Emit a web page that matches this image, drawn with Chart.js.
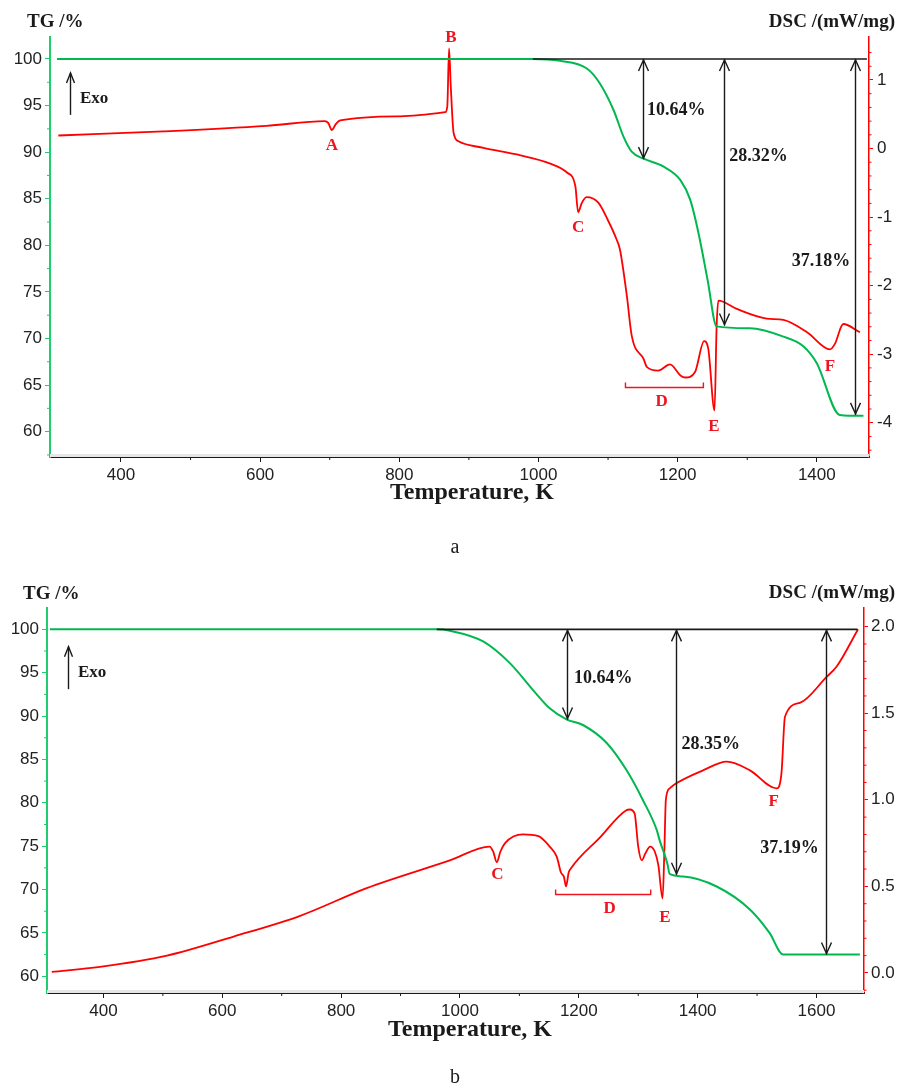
<!DOCTYPE html>
<html lang="en">
<head>
<meta charset="UTF-8">
<title>TG / DSC curves</title>
<script src="https://cdn.jsdelivr.net/npm/chart.js"></script>
<style>
  body { margin: 0; background: #fff; width: 897px; height: 1088px; position: relative; overflow: hidden; }
  canvas { position: absolute; left: 0; }
  #chartA { top: 0; }
  #chartB { top: 560px; }
</style>
</head>
<body>
<canvas id="chartA" width="897" height="560"></canvas>
<canvas id="chartB" width="897" height="528"></canvas>
<script>
// ---- panel a data ----
const tgTempA = [308, 992, 1031, 1069, 1088, 1108, 1122, 1134, 1151, 1180, 1204, 1218, 1230, 1243, 1256, 1304, 1352, 1381, 1400, 1433, 1467];
const tgA     = [100, 100, 99.8, 99.0, 97.4, 94.5, 91.7, 90.05, 89.3, 88.44, 87.0, 84.9, 81.3, 76.3, 71.3, 71.1, 70.2, 69.15, 67.35, 61.8, 61.7];
const dscTempA = [310, 461, 609, 693, 698, 703, 709, 715, 801, 866, 869, 871.5, 874, 878, 885, 921, 969, 1017, 1041, 1053, 1057, 1062, 1069, 1086, 1100, 1112, 1117, 1127, 1134, 1151, 1156, 1172, 1189, 1204, 1211, 1225, 1238, 1244, 1253, 1256, 1258.5, 1285, 1328, 1352, 1386, 1419, 1426, 1438, 1462];
const dscA     = [0.19, 0.25, 0.33, 0.40, 0.37, 0.27, 0.36, 0.41, 0.47, 0.53, 0.62, 1.46, 0.90, 0.23, 0.106, 0.01, -0.087, -0.22, -0.35, -0.55, -0.93, -0.80, -0.71, -0.79, -1.05, -1.32, -1.47, -2.15, -2.73, -3.07, -3.19, -3.24, -3.15, -3.31, -3.34, -3.26, -2.81, -2.92, -3.82, -2.6, -2.22, -2.34, -2.48, -2.50, -2.68, -2.93, -2.85, -2.56, -2.68];
const lossTempA  = [1150, 1267, 1455];
const lossEndA   = [89.25, 71.4, 61.8];
const lossTextA  = ['10.64%', '28.32%', '37.18%'];
const lossLabelTempA = [1156, 1274, 1448];
const lossLabelTgA   = [94.5, 89.6, 78.3];
const peakNamesA = ['A', 'B', 'C', 'D', 'E', 'F'];
const peakTempA  = [703, 874, 1057, 1177, 1252, 1419];
const peakDscA   = [0.04, 1.62, -1.15, -3.69, -4.05, -3.18];
const bracketA   = [1125, 1237, -3.48];

// ---- panel b data ----
const tgTempB = [310, 961, 983, 1039, 1084, 1123, 1151, 1180, 1207, 1247, 1280, 1308, 1331, 1336, 1349, 1353, 1376, 1432, 1488, 1521, 1544, 1673];
const tgB     = [100, 100, 99.84, 98.6, 96.1, 93.0, 90.9, 89.6, 88.97, 86.9, 83.8, 80.3, 76.9, 75.7, 73.0, 71.8, 71.5, 70.35, 67.7, 65.0, 62.5, 62.5];
const dscTempB = [313, 394, 507, 619, 731, 843, 983, 1050, 1056, 1062, 1068, 1076, 1106, 1132, 1151, 1163, 1170, 1175, 1178.5, 1183, 1186, 1235, 1280, 1286, 1294, 1300, 1306, 1312, 1320, 1328, 1334, 1341, 1344, 1346.5, 1353, 1364, 1409, 1449, 1488, 1533, 1541, 1547, 1572, 1617, 1634, 1670];
const dscB     = [0.006, 0.035, 0.10, 0.21, 0.33, 0.49, 0.65, 0.73, 0.70, 0.64, 0.70, 0.75, 0.80, 0.79, 0.73, 0.67, 0.58, 0.555, 0.50, 0.58, 0.60, 0.78, 0.94, 0.944, 0.92, 0.73, 0.65, 0.69, 0.73, 0.70, 0.62, 0.43, 0.70, 1.0, 1.066, 1.095, 1.17, 1.22, 1.17, 1.066, 1.15, 1.48, 1.56, 1.71, 1.77, 1.985];
const lossTempB  = [1180, 1363, 1616];
const lossEndB   = [89.6, 71.7, 62.5];
const lossTextB  = ['10.64%', '28.35%', '37.19%'];
const lossLabelTempB = [1192, 1373, 1604];
const lossLabelTgB   = [94.4, 86.7, 74.8];
const peakNamesB = ['C', 'D', 'E', 'F'];
const peakTempB  = [1063, 1252, 1345, 1528];
const peakDscB   = [0.57, 0.374, 0.32, 0.99];
const bracketB   = [1161, 1321, 0.453];

// ---- tick labels ----
const tempTicksA = [400, 600, 800, 1000, 1200, 1400];
const tempLabelsA = ['400', '600', '800', '1000', '1200', '1400'];
const tempTicksB = [400, 600, 800, 1000, 1200, 1400, 1600];
const tempLabelsB = ['400', '600', '800', '1000', '1200', '1400', '1600'];
const tgTicks = [60, 65, 70, 75, 80, 85, 90, 95, 100];
const tgLabels = ['60', '65', '70', '75', '80', '85', '90', '95', '100'];
const dscTicksA = [-4, -3, -2, -1, 0, 1];
const dscLabelsA = ['-4', '-3', '-2', '-1', '0', '1'];
const dscTicksB = [0, 0.5, 1, 1.5, 2];
const dscLabelsB = ['0.0', '0.5', '1.0', '1.5', '2.0'];

const GREEN = '#00b850';
const GREEN_AXIS = '#1fcc6e';
const RED = '#ff0000';
const LABEL_RED = '#f0141e';
const INK = '#1a1a1a';
const SERIF = '"Liberation Serif", "DejaVu Serif", serif';
const SANS = '"Liberation Sans", Arial, sans-serif';

function toPoints(xs, ys) {
  return xs.map((x, i) => ({ x: x, y: ys[i] }));
}

function seg(ctx, x1, y1, x2, y2) {
  ctx.beginPath(); ctx.moveTo(x1, y1); ctx.lineTo(x2, y2); ctx.stroke();
}

function head(ctx, x, y, dir) {
  // open V arrow head, dir = -1 points up, 1 points down
  ctx.beginPath();
  ctx.moveTo(x - 5, y - dir * 11);
  ctx.lineTo(x, y);
  ctx.lineTo(x + 5, y - dir * 11);
  ctx.stroke();
}

function minorTicks(ctx, scale, step, major, from, to, draw) {
  for (let k = Math.ceil(scale.min / step); k * step <= scale.max; k++) {
    const v = k * step;
    if (Math.abs(v / major - Math.round(v / major)) < 1e-6) continue;
    const p = scale.getPixelForValue(v);
    if (p < from || p > to) continue;
    draw(p);
  }
}

const decor = {
  id: 'decor',
  beforeDatasetsDraw(chart) {
    const { ctx, chartArea: a } = chart;
    ctx.save();
    ctx.fillStyle = '#e6e6e6';
    ctx.fillRect(a.left, a.bottom - 3, a.right - a.left, 3);
    ctx.restore();
  },
  afterDraw(chart, args, o) {
    const { ctx, chartArea: a, scales } = chart;
    const x = scales.x, yt = scales.yTG, yd = scales.yDSC;
    ctx.save();

    // minor ticks
    ctx.lineWidth = 1;
    ctx.strokeStyle = INK;
    minorTicks(ctx, x, 100, 200, a.left + 3, a.right - 3, p => seg(ctx, p, a.bottom, p, a.bottom + 3));
    ctx.strokeStyle = GREEN_AXIS;
    minorTicks(ctx, yt, 2.5, 5, a.top + 2, a.bottom - 2, p => seg(ctx, a.left, p, a.left - 3, p));
    ctx.strokeStyle = RED;
    minorTicks(ctx, yd, o.dscMinor, o.dscMajor, a.top + 2, a.bottom - 2, p => seg(ctx, a.right, p, a.right + 2.5, p));

    // mass loss baseline and arrows
    ctx.strokeStyle = INK;
    ctx.lineWidth = 1.6;
    const y100 = yt.getPixelForValue(100);
    seg(ctx, x.getPixelForValue(o.baseFrom), y100, x.getPixelForValue(o.baseTo), y100);
    ctx.lineWidth = 1.4;
    ctx.font = 'bold 18px ' + SERIF;
    ctx.fillStyle = INK;
    ctx.textBaseline = 'middle';
    o.lossTemp.forEach((t, i) => {
      const px = Math.round(x.getPixelForValue(t)) + 0.5;
      const pe = yt.getPixelForValue(o.lossEnd[i]);
      seg(ctx, px, y100, px, pe);
      head(ctx, px, y100 + 1, -1);
      head(ctx, px, pe - 1, 1);
      ctx.textAlign = o.lossAlign[i];
      ctx.fillText(o.lossText[i], x.getPixelForValue(o.lossLabelTemp[i]), yt.getPixelForValue(o.lossLabelTg[i]));
    });

    // Exo arrow
    const ex = Math.round(x.getPixelForValue(o.exo[0])) + 0.5;
    const eTop = yt.getPixelForValue(o.exo[2]);
    seg(ctx, ex, yt.getPixelForValue(o.exo[1]), ex, eTop);
    ctx.beginPath();
    ctx.moveTo(ex - 4, eTop + 10); ctx.lineTo(ex, eTop); ctx.lineTo(ex + 4, eTop + 10);
    ctx.stroke();
    ctx.font = 'bold 17px ' + SERIF;
    ctx.textAlign = 'left';
    ctx.fillText('Exo', x.getPixelForValue(o.exo[3]), yt.getPixelForValue(o.exo[4]));

    // DSC peak letters
    ctx.fillStyle = LABEL_RED;
    ctx.textAlign = 'center';
    o.peakNames.forEach((n, i) => {
      ctx.fillText(n, x.getPixelForValue(o.peakTemp[i]), yd.getPixelForValue(o.peakDsc[i]));
    });

    // D bracket
    ctx.strokeStyle = LABEL_RED;
    ctx.lineWidth = 1.4;
    const b1 = x.getPixelForValue(o.bracket[0]), b2 = x.getPixelForValue(o.bracket[1]);
    const by = Math.round(yd.getPixelForValue(o.bracket[2])) + 0.5;
    ctx.beginPath();
    ctx.moveTo(b1, by - 5); ctx.lineTo(b1, by); ctx.lineTo(b2, by); ctx.lineTo(b2, by - 5);
    ctx.stroke();

    // axis titles and panel letter
    ctx.fillStyle = INK;
    ctx.font = 'bold 19px ' + SERIF;
    ctx.textAlign = 'left';
    ctx.fillText('TG /%', o.tgTitle[0], o.tgTitle[1]);
    ctx.textAlign = 'right';
    ctx.fillText('DSC /(mW/mg)', o.dscTitle[0], o.dscTitle[1]);
    ctx.textAlign = 'center';
    ctx.font = 'bold 24px ' + SERIF;
    ctx.fillText('Temperature, K', o.xTitle[0], o.xTitle[1]);
    ctx.font = '20px ' + SERIF;
    ctx.fillText(o.panel, o.panelPos[0], o.panelPos[1]);
    ctx.restore();
  }
};

function makeChart(id, c) {
  return new Chart(document.getElementById(id), {
    type: 'line',
    data: {
      datasets: [
        { data: toPoints(c.dscTemp, c.dsc), yAxisID: 'yDSC', borderColor: RED, borderWidth: 1.8,
          pointRadius: 0, cubicInterpolationMode: 'monotone', order: 2 },
        { data: toPoints(c.tgTemp, c.tg), yAxisID: 'yTG', borderColor: GREEN, borderWidth: 2,
          pointRadius: 0, cubicInterpolationMode: 'monotone', order: 1 }
      ]
    },
    options: {
      responsive: false,
      animation: false,
      events: [],
      layout: { padding: { top: c.padTop, left: 0, right: 0, bottom: 0 } },
      plugins: {
        legend: { display: false },
        tooltip: { enabled: false },
        decor: c.decor
      },
      scales: {
        x: {
          type: 'linear', min: c.xMin, max: c.xMax,
          afterFit: s => { s.height = c.xHeight; },
          afterBuildTicks: s => { s.ticks = c.tempTicks.map(v => ({ value: v })); },
          grid: { drawOnChartArea: false, tickLength: 5, tickColor: INK, tickWidth: 1 },
          border: { color: INK, width: 2 },
          ticks: { color: '#222', font: { family: SANS, size: 17 }, padding: 3, maxRotation: 0, autoSkip: false,
                   callback: (v, i) => c.tempLabels[i] }
        },
        yTG: {
          type: 'linear', position: 'left', min: c.tgMin, max: c.tgMax,
          afterFit: s => { s.width = c.leftW; },
          afterBuildTicks: s => { s.ticks = tgTicks.map(v => ({ value: v })); },
          grid: { drawOnChartArea: false, tickLength: 5, tickColor: GREEN_AXIS, tickWidth: 1 },
          border: { color: GREEN_AXIS, width: 2 },
          ticks: { color: '#222', font: { family: SANS, size: 17 }, padding: 3, autoSkip: false,
                   callback: (v, i) => tgLabels[i] }
        },
        yDSC: {
          type: 'linear', position: 'right', min: c.dscMin, max: c.dscMax,
          afterFit: s => { s.width = c.rightW; },
          afterBuildTicks: s => { s.ticks = c.dscTicks.map(v => ({ value: v })); },
          grid: { drawOnChartArea: false, tickLength: 4, tickColor: RED, tickWidth: 1 },
          border: { color: RED, width: 1.5 },
          ticks: { color: '#222', font: { family: SANS, size: 17 }, padding: c.rightPad, autoSkip: false,
                   callback: (v, i) => c.dscLabels[i] }
        }
      }
    },
    plugins: [decor]
  });
}

makeChart('chartA', {
  tgTemp: tgTempA, tg: tgA, dscTemp: dscTempA, dsc: dscA,
  tempTicks: tempTicksA, tempLabels: tempLabelsA, dscTicks: dscTicksA, dscLabels: dscLabelsA,
  padTop: 37, leftW: 50, rightW: 28, xHeight: 103, rightPad: 4,
  xMin: 298, xMax: 1475, tgMin: 57.28, tgMax: 102.36, dscMin: -4.50, dscMax: 1.627,
  decor: {
    dscMinor: 0.2, dscMajor: 1,
    baseFrom: 992, baseTo: 1472,
    lossTemp: lossTempA, lossEnd: lossEndA, lossText: lossTextA,
    lossLabelTemp: lossLabelTempA, lossLabelTg: lossLabelTgA, lossAlign: ['left', 'left', 'right'],
    exo: [327, 94.0, 98.5, 341, 95.8],
    peakNames: peakNamesA, peakTemp: peakTempA, peakDsc: peakDscA, bracket: bracketA,
    tgTitle: [27, 22], dscTitle: [895, 22], xTitle: [472, 493], panel: 'a', panelPos: [455, 548]
  }
});

makeChart('chartB', {
  tgTemp: tgTempB, tg: tgB, dscTemp: dscTempB, dsc: dscB,
  tempTicks: tempTicksB, tempLabels: tempLabelsB, dscTicks: dscTicksB, dscLabels: dscLabelsB,
  padTop: 48, leftW: 47, rightW: 33, xHeight: 95, rightPad: 3,
  xMin: 305, xMax: 1680, tgMin: 58.07, tgMax: 102.46, dscMin: -0.116, dscMax: 2.108,
  decor: {
    dscMinor: 0.1, dscMajor: 0.5,
    baseFrom: 961, baseTo: 1669,
    lossTemp: lossTempB, lossEnd: lossEndB, lossText: lossTextB,
    lossLabelTemp: lossLabelTempB, lossLabelTg: lossLabelTgB, lossAlign: ['left', 'left', 'right'],
    exo: [341, 93.1, 98.0, 357, 95.0],
    peakNames: peakNamesB, peakTemp: peakTempB, peakDsc: peakDscB, bracket: bracketB,
    tgTitle: [23, 34], dscTitle: [895, 33], xTitle: [470, 470], panel: 'b', panelPos: [455, 518]
  }
});
</script>
</body>
</html>
